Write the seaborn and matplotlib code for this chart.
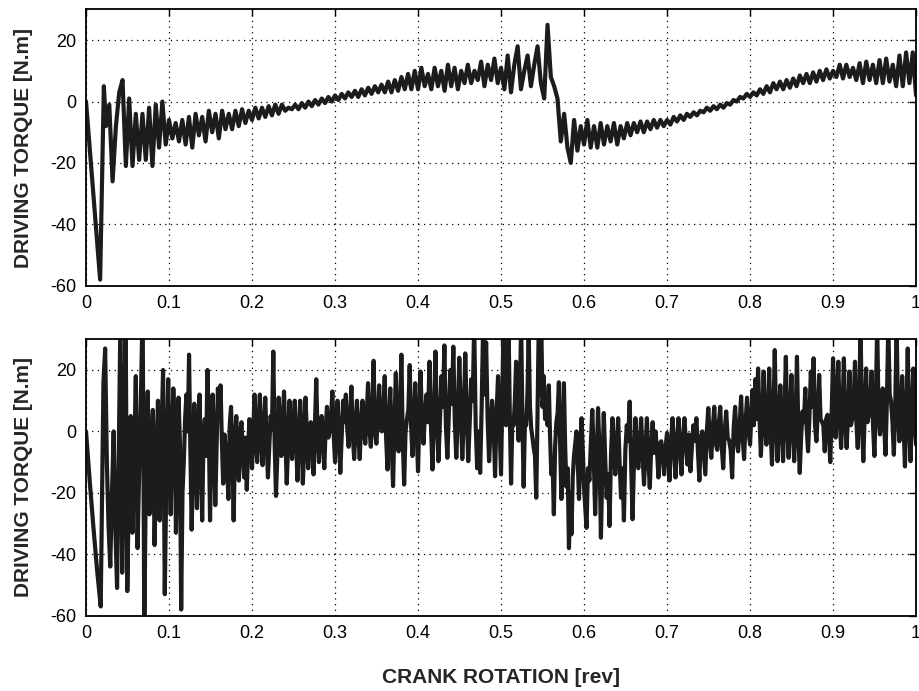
import numpy as np
import pandas as pd
import matplotlib
matplotlib.use("Agg")
import matplotlib.pyplot as plt
import seaborn as sns

sns.set_style("white")
plt.rcParams['font.family'] = ['Liberation Sans', 'DejaVu Sans']
plt.rcParams['axes.unicode_minus'] = False

# ---------------- data ----------------
x_ticks = [0, 0.1, 0.2, 0.3, 0.4, 0.5, 0.6, 0.7, 0.8, 0.9, 1.0]
x_tick_labels = ['0', '0.1', '0.2', '0.3', '0.4', '0.5', '0.6', '0.7', '0.8', '0.9', '1']
y_ticks = [-60, -40, -20, 0, 20]

# upper panel
top_start_x = [0.0, 0.017, 0.0215]
top_start_y = [0, -58, 5]
top_bounds = [(0.024, 0.100), (0.104, 0.200), (0.204, 0.300), (0.304, 0.400),
              (0.404, 0.500), (0.504, 0.600), (0.604, 0.700), (0.704, 0.800),
              (0.804, 0.900), (0.904, 1.000)]
top_s1 = [-8, -1, -26, -8, 3, 7, -21, 1, -21, -4, -19, -4, -19, -2, -21, -1, -15, 0, -14, -6]
top_s2 = [-12, -7, -13, -6, -14, -5, -15, -4, -11, -5, -13, -3, -10, -4, -12, -3, -9, -4, -9, -3,
          -8, -2.5, -7, -3, -6]
top_s3 = [-2, -5.5, -2, -5, -1.5, -4.5, -1, -4, -1, -3, -2, -2.5, -1, -2.5, -0.5, -2, 0, -1.5, 0.5, -1,
          1, -0.5, 1.5, 0, 2]
top_s4 = [0.5, 2.5, 1, 3, 1.5, 3.5, 1.5, 4, 2, 4.5, 2.5, 5, 3, 5.5, 3, 6.5, 3, 7, 3.5, 8,
          4, 9, 4, 10, 4]
top_s5 = [11, 5, 9, 4, 11, 5, 10, 3.5, 12, 5, 11, 4, 10, 6, 12, 6, 10, 7, 13, 5,
          12, 7, 14, 6, 11]
top_s6 = [4, 15, 3, 12, 18, 4, 10, 15, 5, 12, 18, 6, 1, 25, 8, 5, 1, -13, -4, -15,
          -20, -6, -16, -8, -14]
top_s7 = [-6, -15, -8, -15, -7, -14, -8, -13, -7, -14, -8, -12, -7, -11, -7, -10, -6.5, -10, -6.5, -9,
          -6, -8.5, -6, -8, -6]
top_s8 = [-7.5, -5, -6.5, -4.5, -6, -4, -5, -3.5, -4.5, -3, -3.5, -2, -3, -1.5, -2.5, -1, -2, -0.5, -1, 0.5,
          0, 1.5, 1, 2.5, 1.5]
top_s9 = [3, 2, 4, 2.5, 5, 3, 6, 4, 6.5, 4, 7, 4.5, 7.5, 5, 8.5, 6, 9, 6, 9.5, 6.5,
          10, 7, 10.5, 7.5, 10]
top_s10 = [8, 12, 7.5, 12, 8, 11, 7, 12.5, 6, 13, 7, 12, 6, 13.5, 6, 14, 6.5, 12, 5, 15,
           5, 16, 6, 16, 2]

# lower panel
bot_bounds = [(0.0, 0.0177), (0.021, 0.099), (0.102, 0.200), (0.203, 0.300), (0.303, 0.400),
              (0.403, 0.500), (0.503, 0.600), (0.603, 0.700), (0.703, 0.800),
              (0.803, 0.900), (0.903, 1.000)]
bot_s0 = [0, -16, -31, -45, -57]
bot_s1 = [16, 27, -10, -31, -44, -20, 0, -32, -51, -5, 38, -46, -10, 38, -52, -15, 5, -33, -10, 18,
          -38, -12, 12, 40, -65, -8, 13, -27, -5, 7, -37, -10, 10, -29, -3, 20, -53, -12, 17]
bot_s2 = [-27, -5, 14, 2, -33, -8, 11, -3, -58, -20, -10, 4, 12, 0, 25, -6, -32, -12, 9, -4,
          -25, 0, 12, -10, -29, -2, 4, -8, 20, 3, -29, -6, 12, -2, -24, -5, 14, 6, 15, -3,
          -17, -1, -6, -12, -22, 2, 8, -6, -29, -4, 5, -9, -16, 0, 3, -8, -15, -2, -19, -6,
          4, -1, -12]
bot_s3 = [12, -2, -10, 3, 12, -4, -11, 2, 11, -3, -15, -5, 5, 1, 26, -4, -21, -8, 11, 0,
          -8, 4, 13, -2, -17, -5, 10, 1, -9, 3, 10, -3, -16, -4, 10, 2, -17, -6, 11, 0,
          -12, -3, 3, -5, -14, 2, 17, -1, -10, 2, 5, -4, -12, 1, 8, -2, 0, 4, 13, -1, -10]
bot_s4 = [10, 0, -13.5, -2, 10, 3, 12, 1, -5, 4, 14.6, -1, -9, 2, 10, -1, -9, 3, 10, 0,
          -4, 5, 15.7, 1, -5, 6, 23, 0, -4, 4, 15, 2, 0, 6, 18, -2, -12.4, 3, 14, -4,
          -17.8, 2, 19, 1, -6.5, 5, 25, -3, -17.3, 0, 4, 7, 21.6, 2, -8, 4, 15.7, 0, -13]
bot_s5 = [19.5, 4, -4, 6, 12, 3, 22.7, 2, -12.4, 5, 26, 4, -9.7, 3, 18, 8, 28, 2, -8.6, 6,
          20, 9, 27.6, 3, -8.6, 5, 24, 7, -9, 4, 25.4, 6, -9.7, 3, 17, 10, 35, 2, -12, 0,
          -13.5, 8, 35, 12, 29, 4, -9.7, 1, 10, 3, -14.6, 6, 18, 2, -14]
bot_s6 = [35, 8, 2, 15, 35, 5, -17, 4, 2, 10, 22.7, 6, -3, 12, 35, 4, -18, 3, 2, 12,
          32, 8, 1, -2, -5.4, -8, -21.6, 5, 35, 12, 35, 8, 18, 4, 10, 2, 15, -2, -14, -10,
          -27, -5, 3, 6, 16, -4, -22, -6, 15.7, -5, -18, -12, -38, -20, -33.5, -15, -8, -4, 0, -10,
          -22, -8, 4.3, -6, -18.4]
bot_s7 = [-31.4, -12, -16, -4, 7, -8, -27, -10, 7.6, -6, -34.6, -12, 6, -9, -21.6, -14, -30.8, -8, 4.3, -6,
          -14, -4, 4.3, -10, -21.6, -12, -29, -6, 2, -3, 9.7, -9, -28.6, -10, 4.3, -6, -12, -4, 4.3, -8,
          -17.3, -6, 4.3, -9, -18.4, -5, 3, -7, 0, -6, -15, -4, -3.2, -9, -14, -5, -0.5]
bot_s8 = [-16, -4, 4.3, -5, -15, -3, 4.3, -6, -14, -2, 4.3, -4, -10.8, -1, -13, -5, 2, -3, 4.3, -6,
          -16, -2, 0, -7, -14, 0, 7.6, -3, -8.6, 1, 8, -4, -6, 2, 8, -5, -12, 0, 6.5, -2,
          -3, -6, -15, 1, 8, -3, -6.5, 2, 11.4, -2, -9, 3, 11, 0, -4.3]
bot_s9 = [13.5, 2, 17, 4, 20.5, 5, -8, 3, 19.5, 2, -4.3, 6, 20.5, 1, -10.8, 4, 26.5, 3, -9.7, 5,
          15, 0, -9.7, 6, 24.3, 2, -8.6, 5, 18.4, 1, -9.7, 4, 24.3, 0, -13.5, -2, 6.5, 3, 14, 1,
          -6.5, 5, 19.5, 8, 23.8, 2, -3.2, 6, 18.4, 4, 3.2, 2, -6.5, 4, 5.4, -1, -10, 6, 23.8]
bot_s10 = [-2, 8, 22.7, 4, -5.4, 6, 23.8, 3, -5.4, 5, 19.5, 2, 4, 9, 22.7, 3, -5.4, 8, 35, 4,
           -9.7, 6, 20.5, 3, 5.4, 10, 19.5, 2, -8, 9, 35, 5, -1, 7, 14, 2, -7.6, 10, 35, 12,
           9.7, 3, -7.6, 8, 35, 6, -3.2, 5, 18, 2, -11.4, 6, 27, 4, -9.7, 5, 20.5, 3, -4.3]


def build(start_x, start_y, bounds, segs):
    xs = list(start_x)
    ys = list(start_y)
    for (a, b), seg in zip(bounds, segs):
        xs += list(np.linspace(a, b, len(seg)))
        ys += list(seg)
    return pd.DataFrame({"rev": xs, "torque": ys})


df_top = build(top_start_x, top_start_y, top_bounds,
               [top_s1, top_s2, top_s3, top_s4, top_s5, top_s6, top_s7, top_s8, top_s9, top_s10])
df_bot = build([], [], bot_bounds,
               [bot_s0, bot_s1, bot_s2, bot_s3, bot_s4, bot_s5, bot_s6, bot_s7, bot_s8, bot_s9, bot_s10])

# ---------------- figure ----------------
fig = plt.figure(figsize=(9.19, 6.91), dpi=100)
ax1 = fig.add_axes([0.0936, 0.5865, 0.9032, 0.3998])
ax2 = fig.add_axes([0.0936, 0.1090, 0.9032, 0.4000])

line_color = "#1c1c1c"
for ax, df, lw in [(ax1, df_top, 3.0), (ax2, df_bot, 3.0)]:
    sns.lineplot(data=df, x="rev", y="torque", ax=ax, color=line_color, linewidth=lw,
                 estimator=None, sort=False, legend=False)
    ax.set_xlim(0, 1)
    ax.set_ylim(-60, 30)
    ax.set_xticks(x_ticks)
    ax.set_xticklabels(x_tick_labels)
    ax.set_yticks(y_ticks)
    ax.set_axisbelow(True)
    ax.grid(True, color='black', linestyle=(0, (1, 3.5)), linewidth=0.9)
    ax.tick_params(direction='in', length=5, width=1, top=True, right=True,
                   labelsize=13, pad=7, colors='black')
    for s in ax.spines.values():
        s.set_linewidth(1.3)
        s.set_color('black')
    ax.set_ylabel("DRIVING TORQUE [N.m]", fontsize=15, fontweight='bold')
    ax.yaxis.set_label_coords(-0.064, 0.5)
    ax.set_xlabel("")

ax2.set_xlabel("CRANK ROTATION [rev]", fontsize=15, fontweight='bold')
ax2.xaxis.set_label_coords(0.5, -0.19)

fig.savefig("out.png", dpi=100)
